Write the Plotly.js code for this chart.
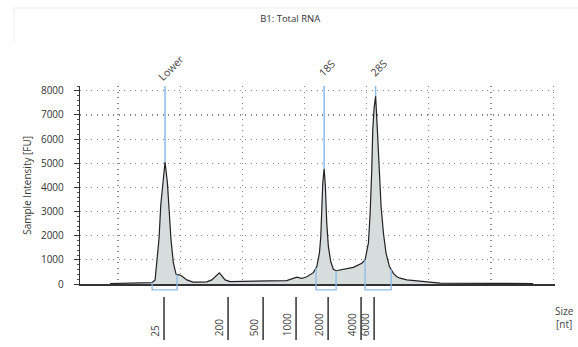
<!DOCTYPE html>
<html>
<head>
<meta charset="utf-8">
<script src="https://cdn.plot.ly/plotly-3.0.1.min.js"></script>
<style>html,body{margin:0;padding:0;background:#fff;}#chart{width:578px;height:347px;}</style>
</head>
<body>
<div id="chart"></div>
<script>
// Electropherogram: migration time [s] vs fluorescence [FU]
const timeSec = [24.36,25.97,27.41,27.74,27.98,28.16,28.30,28.44,28.60,28.78,28.97,29.13,29.26,29.45,29.67,29.91,30.13,30.53,31.03,31.60,32.14,32.54,32.94,33.15,33.37,33.61,34.01,35.06,36.67,38.57,39.38,39.78,40.18,40.71,40.99,41.20,41.31,41.39,41.47,41.58,41.68,41.79,41.92,42.11,42.32,42.54,43.13,43.93,44.61,44.87,45.14,45.28,45.41,45.49,45.60,45.72,45.84,45.90,46.03,46.16,46.35,46.56,46.83,47.15,47.43,47.69,48.23,49.44,50.91,55.17,58.39];
const intensityFU = [20,30,40,60,170,1000,1900,3280,4200,5050,4200,2950,1830,870,400,380,330,170,80,80,90,170,370,460,330,170,100,110,120,140,280,230,300,470,720,1280,1960,3070,4180,4780,4040,2520,1550,930,610,550,610,690,860,1000,1690,2930,4730,6390,7300,7780,6600,5980,4450,3210,2100,1270,720,440,300,240,170,100,40,30,20];

const markerNames = ["Lower","18S","28S"];
const markerTime = [28.78,41.58,45.72];
const bracketStart = [27.74,40.93,44.87];
const bracketEnd = [29.75,42.54,46.97];

const ladderSizes = ["25","200","500","1000","2000","4000","6000"];
const ladderTime = [28.70,33.85,36.67,39.32,41.90,44.55,45.60];

const yTop = 8200;
function interp(x){
  for(let i=0;i<timeSec.length-1;i++){
    if(x>=timeSec[i] && x<=timeSec[i+1]){
      const t=(x-timeSec[i])/(timeSec[i+1]-timeSec[i]);
      return intensityFU[i]+t*(intensityFU[i+1]-intensityFU[i]);
    }
  }
  return 0;
}

const blue = '#8dbbe6';
const shapes = [];
const annotations = [];

// faint frame around title
shapes.push({type:'path', xref:'paper', yref:'paper', path:'M -0.139,1.222 L -0.139,1.394 L 1.06,1.394', line:{color:'#ededed', width:1}});

markerTime.forEach((t,i)=>{
  shapes.push({type:'line', xref:'x', yref:'y', x0:t, x1:t, y0:interp(t), y1:yTop, line:{color:blue, width:1.5}, layer:'above'});
  const xs = i===0 ? 6 : 3;
  annotations.push({text:markerNames[i], xref:'x', yref:'paper', x:t, y:1.09, xshift:xs, showarrow:false, textangle:-45, xanchor:'center', yanchor:'middle', font:{size:10.5, color:'#444', family:'Open Sans, sans-serif'}});
});
bracketStart.forEach((s,i)=>{
  const e = bracketEnd[i];
  const ys = interp(s)/yTop, ye = interp(e)/yTop, yb = -0.03;
  shapes.push({type:'path', xref:'x', yref:'paper', path:`M ${s},${ys} L ${s},${yb} L ${e},${yb} L ${e},${ye}`, line:{color:blue, width:1.3}, layer:'above'});
});
ladderTime.forEach((t,i)=>{
  shapes.push({type:'line', xref:'x', yref:'paper', x0:t, x1:t, y0:-0.066, y1:-0.283, line:{color:'#333', width:1.5}});
  annotations.push({text:ladderSizes[i], xref:'x', yref:'paper', x:t, y:-0.276, xshift:-9, showarrow:false, textangle:-90, xanchor:'center', yanchor:'bottom', font:{size:10, color:'#444', family:'Open Sans, sans-serif'}});
});
annotations.push({text:'Size<br>[nt]', xref:'paper', yref:'paper', x:1.021, y:-0.167, showarrow:false, xanchor:'center', yanchor:'middle', align:'center', font:{size:10, color:'#444', family:'Open Sans, sans-serif'}});
annotations.push({text:'Sample Intensity [FU]', xref:'paper', yref:'paper', x:-0.112, y:0.5, showarrow:false, textangle:-90, xanchor:'center', yanchor:'middle', font:{size:10, color:'#3a3a3a', family:'Open Sans, sans-serif'}});

const trace = {x:timeSec, y:intensityFU, type:'scatter', mode:'lines', fill:'tozeroy', fillcolor:'#d7dcdc', line:{color:'#222', width:1.2}, hoverinfo:'skip'};

const layout = {
  width:578, height:347,
  margin:{l:80, r:23, t:86, b:63},
  paper_bgcolor:'#fff', plot_bgcolor:'#fff',
  showlegend:false,
  title:{text:'B1: Total RNA', x:0.502, xref:'container', y:0.945, yref:'container', xanchor:'center', yanchor:'middle', font:{size:9.5, color:'#333', family:'Open Sans, sans-serif'}},
  xaxis:{range:[21.94,60.15], tick0:25, dtick:5, showgrid:true, gridcolor:'#8a8a8a', griddash:'1px,4.5px', gridwidth:1.2, showticklabels:false, ticks:'', zeroline:false, showline:true, linecolor:'#333', linewidth:1.5, fixedrange:true},
  yaxis:{range:[0,yTop], tick0:0, dtick:1000, showgrid:true, gridcolor:'#8a8a8a', griddash:'1px,4.5px', gridwidth:1.2, zeroline:false, showline:true, linecolor:'#333', linewidth:1.2, ticks:'outside', ticklen:5, tickcolor:'#333', ticklabelstandoff:8, tickfont:{size:10, color:'#333', family:'Open Sans, sans-serif'}, minor:{dtick:200, ticks:'outside', ticklen:2, tickcolor:'#555', showgrid:false}, fixedrange:true},
  shapes:shapes,
  annotations:annotations
};
Plotly.newPlot('chart',[trace],layout,{displayModeBar:false, staticPlot:true});
</script>
</body>
</html>
